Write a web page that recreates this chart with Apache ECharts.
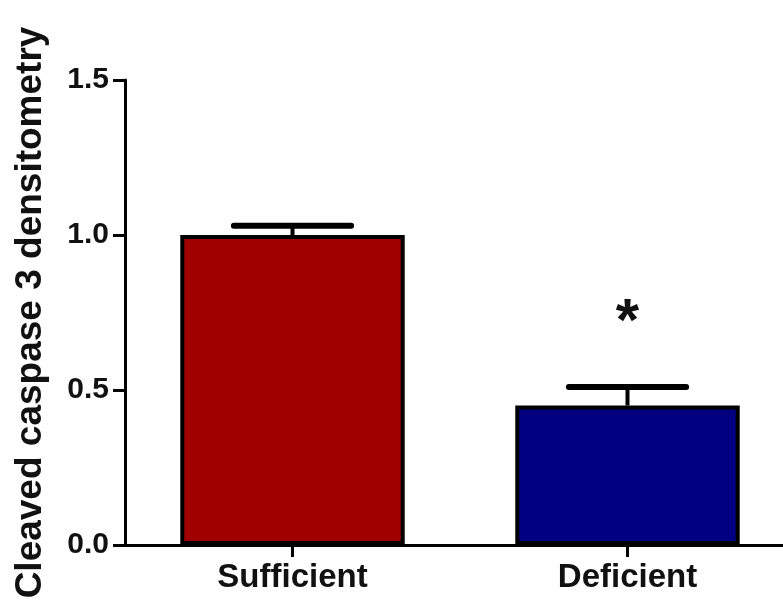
<!DOCTYPE html>
<html>
<head>
<meta charset="utf-8">
<script src="https://cdn.jsdelivr.net/npm/echarts@6/dist/echarts.min.js"></script>
<style>
html,body{margin:0;padding:0;background:#fff;}
#chart{width:783px;height:600px;}
</style>
</head>
<body>
<div id="chart"></div>
<script>
const categories = ['Sufficient', 'Deficient'];
const means = [1.0, 0.45];
const errors = [0.03, 0.06];
const barColors = ['#A00000', '#000080'];
const significance = ['', '*'];
const yTicks = [0, 0.5, 1.0, 1.5];
const yTitle = 'Cleaved caspase 3 densitometry';

const FONT = 'Liberation Sans, Arial, sans-serif';
const chart = echarts.init(document.getElementById('chart'));

const errData = categories.map((c, i) => [i, means[i], errors[i], significance[i]]);

chart.setOption({
  backgroundColor: '#ffffff',
  animation: false,
  grid: { left: 125, top: 80, bottom: 55, right: -12, containLabel: false, outerBoundsMode: 'none' },
  xAxis: {
    type: 'category',
    data: categories,
    boundaryGap: true,
    axisLine: { show: true, lineStyle: { color: '#000', width: 3 } },
    axisTick: { show: true, alignWithLabel: true, length: 12, lineStyle: { color: '#000', width: 3 } },
    axisLabel: { color: '#111', fontFamily: FONT, fontWeight: 'bold', fontSize: 33, margin: 16 },
    splitLine: { show: false }
  },
  yAxis: {
    type: 'value',
    min: yTicks[0],
    max: yTicks[yTicks.length - 1],
    interval: 0.5,
    name: yTitle,
    nameLocation: 'middle',
    nameRotate: 90,
    nameGap: 76,
    nameTextStyle: { color: '#111', fontFamily: FONT, fontWeight: 'bold', fontSize: 37 },
    axisLine: { show: true, lineStyle: { color: '#000', width: 3 } },
    axisTick: { show: true, length: 12, lineStyle: { color: '#000', width: 3 } },
    axisLabel: {
      color: '#111', fontFamily: FONT, fontWeight: 'bold', fontSize: 30, margin: 16,
      formatter: v => v.toFixed(1)
    },
    splitLine: { show: false }
  },
  series: [
    {
      type: 'bar',
      barWidth: '67%',
      data: means.map((v, i) => ({
        value: v,
        itemStyle: { color: barColors[i], borderColor: '#000', borderWidth: 4 }
      })),
      z: 2
    },
    {
      type: 'custom',
      data: errData,
      z: 3,
      renderItem: function (params, api) {
        const x = api.value(0);
        const m = api.value(1);
        const e = api.value(2);
        const sig = significance[params.dataIndex];
        const pBase = api.coord([x, m]);
        const pTop = api.coord([x, m + e]);
        const bw = api.size([1, 0])[0] * 0.35;
        const children = [
          { type: 'line', shape: { x1: pBase[0], y1: pBase[1], x2: pTop[0], y2: pTop[1] },
            style: { stroke: '#000', lineWidth: 4 } },
          { type: 'line', shape: { x1: pTop[0] - bw / 2, y1: pTop[1], x2: pTop[0] + bw / 2, y2: pTop[1] },
            style: { stroke: '#000', lineWidth: 6, lineCap: 'round' } }
        ];
        if (sig) {
          children.push({
            type: 'text',
            style: {
              text: sig, x: pTop[0], y: pTop[1] - 33,
              align: 'center', verticalAlign: 'bottom',
              fill: '#111', font: 'bold 60px ' + FONT
            }
          });
        }
        return { type: 'group', children: children };
      }
    }
  ]
});
</script>
</body>
</html>
